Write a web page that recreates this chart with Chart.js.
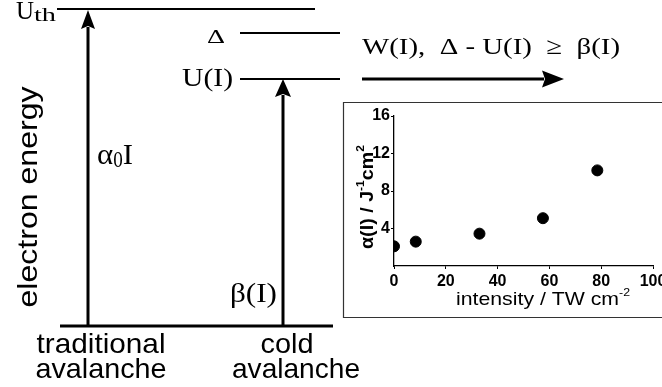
<!DOCTYPE html>
<html>
<head>
<meta charset="utf-8">
<script src="https://cdn.jsdelivr.net/npm/chart.js@4/dist/chart.umd.min.js"></script>
<style>
  html, body { margin: 0; padding: 0; background: #fff; overflow: hidden; }
  #wrap { position: relative; width: 662px; height: 387px; }
</style>
</head>
<body>
<div id="wrap"><canvas id="c" width="662" height="387"></canvas></div>
<script>
// Measured avalanche coefficient versus laser intensity
const intensity = [0, 8.4, 33, 57.5, 78.5];      // TW cm^-2
const alphaValues = [2.1, 2.6, 3.45, 5.1, 10.2];  // J^-1 cm^2
const xTickValues = [0, 20, 40, 60, 80, 100];
const yTickValues = [4, 8, 12, 16];

const SANS = '"Liberation Sans", Arial, sans-serif';
const SERIF = '"Liberation Serif", "Times New Roman", serif';

// Draws a run of text pieces (with sub/superscripts) on one baseline.
function rich(ctx, segs, x, y, o) {
  o = o || {};
  const wt = o.weight || 'normal';
  const fam = o.family || SANS;
  ctx.save();
  ctx.translate(x, y);
  if (o.rot) ctx.rotate(o.rot);
  ctx.fillStyle = '#000';
  ctx.textBaseline = 'alphabetic';
  ctx.textAlign = 'left';
  const nat = segs.map(s => { ctx.font = `${wt} ${s.size}px ${fam}`; return ctx.measureText(s.t).width; });
  const widths = segs.map((s, i) => s.w ? s.w : nat[i]);
  const total = widths.reduce((a, b) => a + b, 0);
  const sx = o.width ? o.width / total : 1;
  ctx.scale(sx, 1);
  let cx = o.align === 'center' ? -total / 2 : (o.align === 'right' ? -total : 0);
  segs.forEach((s, i) => {
    ctx.font = `${wt} ${s.size}px ${fam}`;
    ctx.save();
    ctx.translate(cx, s.dy || 0);
    if (s.w) ctx.scale(s.w / nat[i], 1);
    ctx.fillText(s.t, 0, 0);
    ctx.restore();
    cx += widths[i];
  });
  ctx.restore();
}

function line(ctx, x1, y1, x2, y2, lw) {
  ctx.save();
  ctx.strokeStyle = '#000';
  ctx.lineWidth = lw;
  ctx.beginPath();
  ctx.moveTo(x1, y1);
  ctx.lineTo(x2, y2);
  ctx.stroke();
  ctx.restore();
}

function arrow(ctx, x1, y1, x2, y2, head, half, lw) {
  const a = Math.atan2(y2 - y1, x2 - x1);
  const len = Math.hypot(x2 - x1, y2 - y1);
  ctx.save();
  ctx.translate(x1, y1);
  ctx.rotate(a);
  ctx.strokeStyle = '#000';
  ctx.fillStyle = '#000';
  ctx.lineWidth = lw;
  ctx.beginPath();
  ctx.moveTo(0, 0);
  ctx.lineTo(len - head + 2, 0);
  ctx.stroke();
  ctx.beginPath();
  ctx.moveTo(len, 0);
  ctx.lineTo(len - head, -half);
  ctx.lineTo(len - head + 3, 0);
  ctx.lineTo(len - head, half);
  ctx.closePath();
  ctx.fill();
  ctx.restore();
}

// Energy-level scheme plus the frame and axis titles of the inset plot
const schemePlugin = {
  id: 'scheme',
  beforeDraw(chart) {
    const ctx = chart.ctx;
    ctx.save();
    ctx.fillStyle = '#fff';
    ctx.fillRect(0, 0, chart.width, chart.height);
    // inset frame
    ctx.strokeStyle = '#333';
    ctx.lineWidth = 1.2;
    ctx.beginPath();
    ctx.moveTo(668, 102.5);
    ctx.lineTo(343.5, 102.5);
    ctx.lineTo(343.5, 317.5);
    ctx.lineTo(668, 317.5);
    ctx.stroke();
    ctx.restore();
  },
  afterDraw(chart) {
    const ctx = chart.ctx;

    // energy levels
    line(ctx, 57, 9, 315, 9, 2);
    line(ctx, 240, 33, 340, 33, 2);
    line(ctx, 240, 79, 340, 79, 2);
    line(ctx, 60, 326, 333, 326, 3);

    // excitation arrows
    arrow(ctx, 88, 326, 88, 10, 19, 7, 3);
    arrow(ctx, 283, 326, 283, 79, 18, 8, 3);
    arrow(ctx, 362, 79, 564, 79, 22, 8.5, 3);

    // level labels
    rich(ctx, [{ t: 'U', size: 25, w: 18 }, { t: 'th', size: 18, dy: 2, w: 22 }], 16, 19, { family: SERIF });
    rich(ctx, [{ t: 'Δ', size: 19, w: 18 }], 207, 43, { family: SERIF });
    rich(ctx, [{ t: 'U(I)', size: 26 }], 182, 86, { family: SERIF, width: 51 });
    rich(ctx, [{ t: 'W(I),  Δ - U(I)  ≥  β(I)', size: 24 }], 362, 54, { family: SERIF, width: 258 });
    rich(ctx, [{ t: 'α', size: 29 }, { t: '0', size: 23, dy: 3, w: 9 }, { t: 'I', size: 29 }], 97, 164, { family: SERIF, width: 36 });
    rich(ctx, [{ t: 'β(I)', size: 27 }], 230, 302, { family: SERIF, width: 47 });

    // energy axis and column captions
    rich(ctx, [{ t: 'electron energy', size: 28 }], 37, 197, { rot: -Math.PI / 2, align: 'center', width: 221 });
    rich(ctx, [{ t: 'traditional', size: 28 }], 101, 353, { align: 'center', width: 129 });
    rich(ctx, [{ t: 'avalanche', size: 28 }], 101, 378, { align: 'center', width: 131 });
    rich(ctx, [{ t: 'cold', size: 28 }], 287, 353, { align: 'center', width: 53 });
    rich(ctx, [{ t: 'avalanche', size: 28 }], 296, 378, { align: 'center', width: 128 });

    // inset axis titles
    rich(ctx, [
      { t: 'α(I) / J', size: 18 },
      { t: '-1', size: 11, dy: -9 },
      { t: 'cm', size: 18 },
      { t: '2', size: 11, dy: -9 }
    ], 373, 197, { rot: -Math.PI / 2, align: 'center', weight: 'bold', width: 104 });
    rich(ctx, [
      { t: 'intensity / TW cm', size: 19 },
      { t: '-2', size: 11, dy: -9 }
    ], 543, 305, { align: 'center', width: 174 });
  }
};

new Chart(document.getElementById('c'), {
  type: 'scatter',
  data: {
    datasets: [{
      data: intensity.map((x, i) => ({ x, y: alphaValues[i] })),
      backgroundColor: '#000',
      borderColor: '#000',
      pointRadius: 5.5,
      pointHoverRadius: 5.5
    }]
  },
  options: {
    responsive: false,
    animation: false,
    devicePixelRatio: 1,
    events: [],
    layout: { padding: { left: 344, top: 116, right: 9, bottom: 91 } },
    plugins: { legend: { display: false }, tooltip: { enabled: false } },
    scales: {
      x: {
        type: 'linear',
        min: 0,
        max: 100,
        afterBuildTicks: s => { s.ticks = xTickValues.map(v => ({ value: v })); },
        afterFit: s => { s.height = 30; s.paddingRight = 0; s.paddingLeft = 0; },
        border: { display: true, color: '#000', width: 1.3 },
        grid: { display: true, drawOnChartArea: false, color: '#000', tickLength: 3 },
        ticks: { color: '#000', padding: 3, maxRotation: 0, font: { family: SANS, size: 16, weight: 'bold' } }
      },
      y: {
        type: 'linear',
        min: 0,
        max: 16,
        afterBuildTicks: s => { s.ticks = yTickValues.map(v => ({ value: v })); },
        afterFit: s => { s.width = 50; },
        border: { display: true, color: '#000', width: 1.3 },
        grid: { display: true, drawOnChartArea: false, color: '#000', tickLength: 3 },
        ticks: { color: '#000', padding: 1, font: { family: SANS, size: 16, weight: 'bold' } }
      }
    }
  },
  plugins: [schemePlugin]
});
</script>
</body>
</html>
